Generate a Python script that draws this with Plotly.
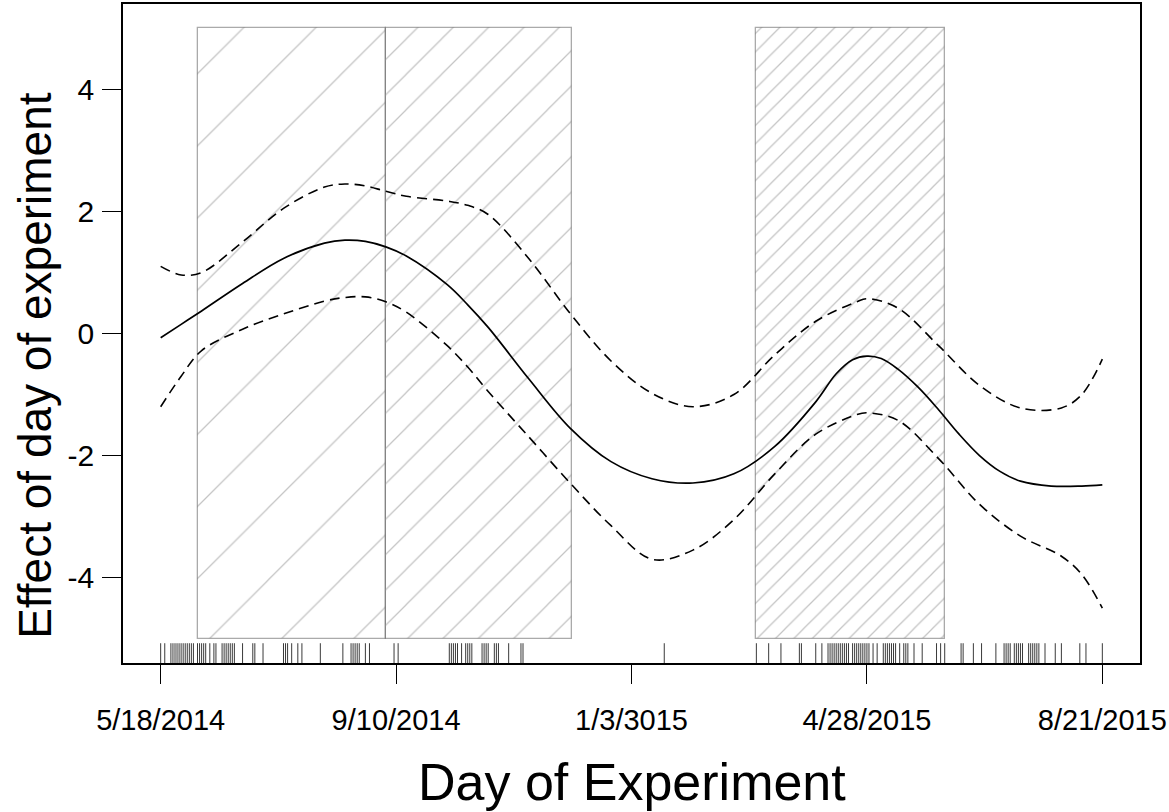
import plotly.graph_objects as go

# Smooth term for day of experiment with its confidence band
day = [0, 10, 20, 40, 60, 80, 90, 100, 110, 120, 140, 150, 160, 180, 200, 220, 240,
       260, 280, 300, 320, 330, 338, 345, 352, 360, 370, 380, 390, 400, 410, 420,
       435, 450, 460]
fit = [-0.07, 0.15, 0.37, 0.82, 1.23, 1.48, 1.53, 1.51, 1.42, 1.27, 0.80, 0.47, 0.10,
       -0.75, -1.55, -2.10, -2.38, -2.45, -2.30, -1.85, -1.12, -0.66, -0.43, -0.37,
       -0.41, -0.58, -0.88, -1.25, -1.65, -2.00, -2.26, -2.42, -2.50, -2.50, -2.48]

band_day = [0, 10, 20, 40, 60, 80, 90, 100, 110, 120, 140, 150, 160, 180, 200, 220,
            240, 260, 280, 300, 320, 340, 345, 360, 380, 400, 420, 440, 450, 460]
upper = [1.10, 0.96, 1.00, 1.50, 2.05, 2.40, 2.45, 2.42, 2.33, 2.25, 2.17, 2.10, 1.95,
         1.22, 0.33, -0.45, -0.98, -1.20, -1.00, -0.35, 0.20, 0.52, 0.57, 0.42,
         -0.20, -0.85, -1.22, -1.22, -1.00, -0.42]
lower = [-1.20, -0.70, -0.28, 0.07, 0.32, 0.53, 0.59, 0.60, 0.52, 0.35, -0.20, -0.55,
         -0.95, -1.70, -2.45, -3.15, -3.70, -3.55, -3.05, -2.30, -1.65, -1.33, -1.30,
         -1.42, -2.05, -2.80, -3.32, -3.65, -3.95, -4.50]

# Sampling days (rug)
rug_days = [0, 2, 5, 6, 7, 8, 9, 10, 11, 12, 13, 14, 15, 16, 18, 19, 20, 21, 22, 24,
            26, 27, 30, 31, 32, 33, 34, 35, 36, 40, 45, 46, 50, 60, 61, 62, 64, 67, 69,
            78, 89, 93, 94, 95, 96, 97, 100, 102, 114, 116, 141, 142, 143, 144, 145,
            147, 149, 150, 151, 152, 157, 158, 159, 160, 163, 164, 165, 170, 176, 177,
            246, 291, 297, 303, 312, 313, 320, 323, 326, 327, 328, 329, 330, 331, 332,
            333, 334, 335, 336, 338, 339, 340, 341, 342, 343, 344, 345, 346, 348, 350,
            353, 354, 355, 356, 357, 358, 359, 361, 363, 364, 365, 368, 372, 379, 381,
            383, 391, 392, 397, 401, 408, 412, 413, 414, 415, 417, 418, 419, 420, 421,
            424, 425, 426, 427, 428, 429, 432, 437, 440, 449, 452, 460]

# Seasonal windows (day start / end), drawn as hatched blocks
season_start = [18, 110, 291]
season_end = [110, 201, 383]
season_low = -5
season_high = 5

tick_days = [0, 115, 230, 345, 460]
tick_labels = ["5/18/2014", "9/10/2014", "1/3/3015", "4/28/2015", "8/21/2015"]
y_ticks = [-4, -2, 0, 2, 4]

# axis ranges padded 4% like base graphics
x_span = max(tick_days) - min(tick_days)
x_range = [min(tick_days) - 0.04 * x_span, max(tick_days) + 0.04 * x_span]
y_span = season_high - season_low
y_range = [season_low - 0.04 * y_span, season_high + 0.04 * y_span]

FONT = "Liberation Sans, Arial, sans-serif"
hatch_sizes = [51, 25, 13]

fig = go.Figure()

for s, e, hs in zip(season_start, season_end, hatch_sizes):
    fig.add_trace(go.Bar(
        x=[(s + e) / 2], y=[season_high - season_low], base=[season_low],
        width=[e - s],
        marker=dict(
            color="rgba(255,255,255,0)",
            line=dict(color="rgba(100,100,100,0.55)", width=1.3),
            pattern=dict(shape="/", size=hs, solidity=1.25 / hs,
                         fgcolor="#c4c4c4", bgcolor="rgba(255,255,255,0)",
                         fgopacity=1),
        ),
        showlegend=False, hoverinfo="skip",
    ))

fig.add_trace(go.Scatter(x=day, y=fit, mode="lines", line_shape="spline",
                         line=dict(color="black", width=1.7), showlegend=False))
for band in (upper, lower):
    fig.add_trace(go.Scatter(x=band_day, y=band, mode="lines", line_shape="spline",
                             line=dict(color="black", width=1.6, dash="10px,6px"),
                             showlegend=False))

# rug ticks along the bottom edge
rug_top = y_range[0] + 0.03 * (y_range[1] - y_range[0])
rx, ry = [], []
for d in rug_days:
    rx += [d, d, None]
    ry += [y_range[0], rug_top, None]
fig.add_trace(go.Scatter(x=rx, y=ry, mode="lines",
                         line=dict(color="#3a3a3a", width=1), showlegend=False,
                         hoverinfo="skip"))

fig.update_layout(
    width=1169, height=812,
    margin=dict(l=123, r=29, t=2, b=149),
    paper_bgcolor="white", plot_bgcolor="white",
    barmode="overlay", bargap=0,
    font=dict(family=FONT, color="black"),
    annotations=[
        dict(text="Day of Experiment", xref="paper", yref="paper",
             x=0.5, y=-0.180, xanchor="center", yanchor="middle",
             showarrow=False, font=dict(size=52, family=FONT)),
        dict(text="Effect of day of experiment", xref="paper", yref="paper",
             x=-0.0865, y=0.451, xanchor="center", yanchor="middle",
             textangle=-90, showarrow=False, font=dict(size=46, family=FONT)),
    ],
)
fig.update_xaxes(
    range=x_range, tickvals=tick_days, ticktext=tick_labels,
    ticks="outside", ticklen=19, tickwidth=1.3, tickcolor="black",
    showline=True, linecolor="black", linewidth=1.5, mirror=True,
    showgrid=False, zeroline=False, tickfont=dict(size=29, family=FONT),
    ticklabelstandoff=11,
)
fig.update_yaxes(
    range=y_range, tickvals=y_ticks, ticktext=[str(v) for v in y_ticks],
    ticks="outside", ticklen=19, tickwidth=1.3, tickcolor="black",
    showline=True, linecolor="black", linewidth=1.5, mirror=True,
    showgrid=False, zeroline=False, tickfont=dict(size=30, family=FONT),
    ticklabelstandoff=2,
)

fig.write_html("out.html")
